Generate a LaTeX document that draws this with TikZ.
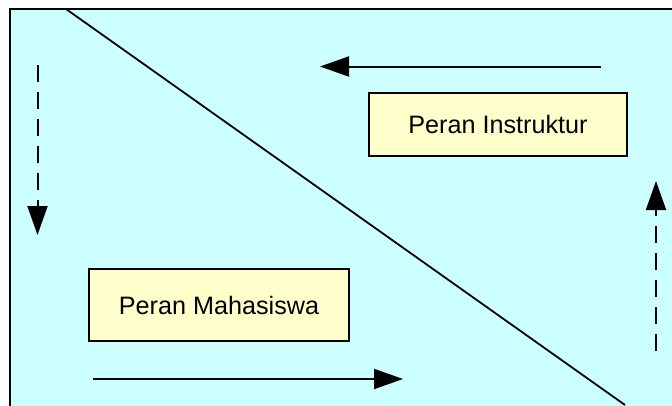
\documentclass[tikz,border=0pt]{standalone}
\usepackage{fontspec}
\setmainfont{Liberation Sans}
\usetikzlibrary{arrows.meta}
\definecolor{bgcyan}{HTML}{CCFFFF}
\definecolor{boxyellow}{HTML}{FFFFCC}
\begin{document}
\begin{tikzpicture}[x=1pt,y=-1pt,
  rolebox/.style={draw=black,line width=1.8pt,fill=boxyellow,inner sep=0pt,font=\fontsize{25.2}{29}\selectfont},
  flow/.style={line width=2pt,-{Triangle[length=29pt,width=20pt]}},
  dashflow/.style={flow,dash pattern=on 17pt off 10pt}]
\useasboundingbox (0,0) rectangle (672,405);
\clip (0,0) rectangle (672,405);
\fill[white] (0,0) rectangle (672,405);
\draw[line width=2pt,fill=bgcyan] (10,9) rectangle (690,420);
\coordinate (dtop) at (66,9);
\coordinate (dbot) at (625,405);
\draw[line width=1.8pt] (dtop) -- (dbot);
\node[rolebox,minimum width=258pt,minimum height=63pt] (instr) at (498,124.5) {Peran Instruktur};
\node[rolebox,minimum width=260pt,minimum height=72pt] (maha) at (219,305) {Peran Mahasiswa};
\coordinate (ta) at (601,66.5);
\coordinate (tb) at (320,66.5);
\draw[flow] (ta) -- (tb);
\coordinate (ba) at (93,379);
\coordinate (bb) at (403,379);
\draw[flow] (ba) -- (bb);
\coordinate (la) at (37.5,65);
\coordinate (lb) at (37.5,235);
\draw[dashflow] (la) -- (lb);
\coordinate (ra) at (656,351);
\coordinate (rb) at (656,181);
\draw[dashflow] (ra) -- (rb);
\end{tikzpicture}
\end{document}
